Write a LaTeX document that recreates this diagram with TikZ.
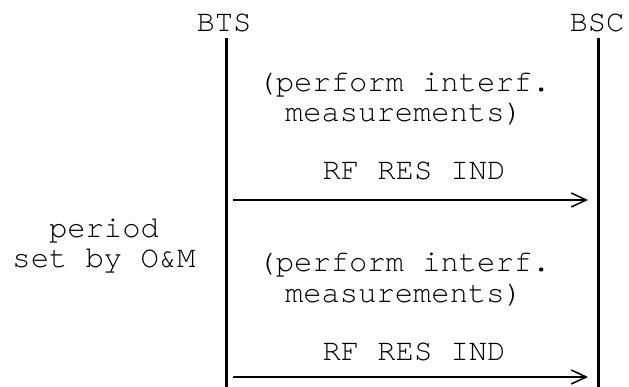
\documentclass[tikz,border=0pt]{standalone}
\usepackage{fontspec}
\setmainfont{TeX Gyre Cursor}
\usetikzlibrary{arrows.meta}
\begin{document}
\begin{tikzpicture}[x=1pt,y=-1pt,
  lbl/.style={font=\fontsize{30.5}{30.5}\selectfont, inner sep=0pt, anchor=base, align=center},
  life/.style={line width=3pt},
  msg/.style={line width=2.4pt, -{Straight Barb[length=15pt,width=14pt,line width=1.5pt]}}]
\useasboundingbox (0,0) rectangle (629,387);
\node[lbl] (bts) at (224,32) {BTS};
\node[lbl] (bsc) at (597,32) {BSC};
\coordinate (btsT) at (226,38);
\coordinate (btsB) at (226,387);
\coordinate (bscT) at (598,38);
\coordinate (bscB) at (598,387);
\draw[life] (btsT) -- (btsB);
\draw[life] (bscT) -- (bscB);
\node[lbl] (m1) at (404,122) {(perform interf.\\measurements)};
\node[lbl] (r1) at (414,180) {RF RES IND};
\coordinate (a1s) at (233,200);
\coordinate (a1e) at (588,200);
\draw[msg] (a1s) -- (a1e);
\node[lbl] (per) at (104,268) {period\\set by O\&M};
\node[lbl] (m2) at (404,302) {(perform interf.\\measurements)};
\node[lbl] (r2) at (414,360) {RF RES IND};
\coordinate (a2s) at (233,377);
\coordinate (a2e) at (588,377);
\draw[msg] (a2s) -- (a2e);
\end{tikzpicture}
\end{document}
